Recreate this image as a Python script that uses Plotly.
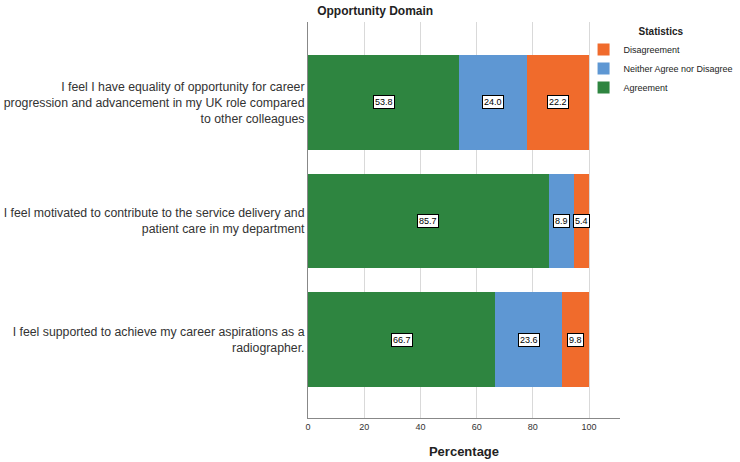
import plotly.graph_objects as go

categories = [
    "I feel I have equality of opportunity for career<br>progression and advancement in my UK role compared<br>to other colleagues",
    "I feel motivated to contribute to the service delivery and<br>patient care in my department",
    "I feel supported to achieve my career aspirations as a<br>radiographer.",
]
agreement = [53.8, 85.7, 66.7]
neither = [24.0, 8.9, 23.6]
disagreement = [22.2, 5.4, 9.8]
series_names = ["Agreement", "Neither Agree nor Disagree", "Disagreement"]
colors = ["#2E8540", "#5E97D3", "#F06B2C"]
x_ticks = [0, 20, 40, 60, 80, 100]

fig = go.Figure()
ypos = list(range(len(categories)))
all_series = [agreement, neither, disagreement]
for name, vals, col in zip(series_names, all_series, colors):
    fig.add_trace(go.Bar(
        y=ypos, x=vals, name=name, orientation="h",
        marker=dict(color=col, line=dict(width=0)),
        width=0.8,
    ))

# value labels
for i in ypos:
    base = 0
    for vals in all_series:
        v = vals[i]
        fig.add_annotation(
            x=base + v / 2, y=i, text=f"{v:.1f}", showarrow=False,
            font=dict(size=9, color="#000", family="Arial, Liberation Sans"),
            bgcolor="white", bordercolor="#000", borderwidth=1, borderpad=1,
        )
        base += v

fig.update_layout(
    barmode="stack",
    width=740, height=462,
    margin=dict(l=308, r=120, t=22, b=44, autoexpand=False),
    plot_bgcolor="white", paper_bgcolor="white",
    font=dict(family="Arial, Liberation Sans", color="#333"),
    title=dict(text="<b>Opportunity Domain</b>", x=0.507, xanchor="center",
               y=0.985, yanchor="top", font=dict(size=12, color="#222")),
    legend=dict(
        title=dict(text="<b>Statistics</b>", side="top center",
                   font=dict(size=10, color="#222")),
        traceorder="reversed", x=1.38, xanchor="right", y=1.0, yanchor="top",
        font=dict(size=9, color="#222"), itemwidth=30,
        tracegroupgap=0, bgcolor="rgba(0,0,0,0)",
    ),
    bargap=0.2,
)
fig.update_xaxes(
    range=[0, 111], tickvals=x_ticks, showgrid=True, gridcolor="#D9D9D9",
    gridwidth=1, zeroline=False, showline=True, linecolor="#888",
    tickfont=dict(size=9, color="#333"), ticks="",
    title=dict(text="<b>Percentage</b>", font=dict(size=13, color="#222"), standoff=16),
)
fig.update_yaxes(
    range=[2.662, -0.679], tickvals=ypos, ticktext=categories,
    showgrid=False, zeroline=False, showline=True, linecolor="#888",
    tickfont=dict(size=12.3, color="#333"), ticks="",
)
fig.write_html("out.html")
